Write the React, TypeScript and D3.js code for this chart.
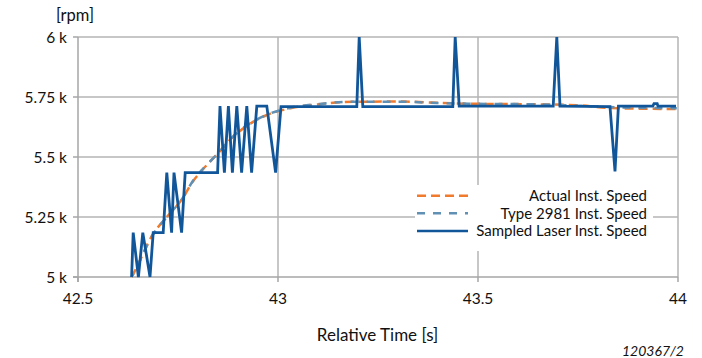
import React from "react";
import * as d3 from "d3";

// ---- Data ----
const yTicks = [5000, 5250, 5500, 5750, 6000];
const yTickLabels = ["5 k", "5.25 k", "5.5 k", "5.75 k", "6 k"];
const xTicks = [42.5, 43, 43.5, 44];
const xTickLabels = ["42.5", "43", "43.5", "44"];

const actualTime = [42.634, 42.638, 42.688, 42.722, 42.759, 42.788, 42.813, 42.847, 42.888, 42.93, 42.972, 43.022, 43.105, 43.188, 43.3125, 43.397, 43.48, 43.622, 43.747, 43.83, 43.997];
const actualSpeed = [5000, 5012, 5180, 5250, 5322, 5400, 5450, 5510, 5585, 5638, 5675, 5700, 5720, 5730, 5731, 5726, 5722, 5720, 5716, 5704, 5700];

const typeTime = [42.634, 42.638, 42.688, 42.722, 42.759, 42.788, 42.813, 42.847, 42.888, 42.93, 42.972, 43.022, 43.105, 43.188, 43.3125, 43.397, 43.48, 43.622, 43.747, 43.83, 43.997];
const typeSpeed = [5000, 5012, 5178, 5250, 5322, 5402, 5452, 5510, 5586, 5640, 5676, 5702, 5721, 5730, 5730, 5725, 5722, 5720, 5714, 5708, 5703];

const sampledTime = [42.634, 42.638, 42.651, 42.662, 42.68, 42.688, 42.713, 42.722, 42.734, 42.74, 42.759, 42.768, 42.849, 42.855, 42.866, 42.876, 42.886, 42.897, 42.909, 42.922, 42.934, 42.947, 42.972, 42.994, 43.0075, 43.197, 43.203, 43.212, 43.437, 43.443, 43.453, 43.688, 43.697, 43.705, 43.83, 43.8425, 43.851, 43.937, 43.94, 43.948, 43.95, 43.995];
const sampledSpeed = [5000, 5185, 5000, 5185, 5000, 5185, 5185, 5435, 5185, 5435, 5185, 5435, 5435, 5712, 5435, 5712, 5435, 5712, 5435, 5712, 5435, 5712, 5712, 5435, 5710, 5710, 6000, 5710, 5710, 6000, 5712, 5712, 6000, 5712, 5710, 5440, 5712, 5712, 5722, 5722, 5712, 5712];

const legendLabels = ["Actual Inst. Speed", "Type 2981 Inst. Speed", "Sampled Laser Inst. Speed"];

const FONT = "Lato, 'Open Sans', sans-serif";
const ORANGE = "#F07B2C";
const STEEL = "#6090B4";
const NAVY = "#12569A";
const GRID = "#B5B5B5";

export default function App() {
  const W = 702, H = 358;
  const x = d3.scaleLinear().domain([42.5, 44]).range([78, 678]);
  const y = d3.scaleLinear().domain([5000, 6000]).range([277, 37]);

  const zip = (t: number[], v: number[]) => t.map((tt, i) => [tt, v[i]] as [number, number]);
  const smooth = d3.line<[number, number]>().x(d => x(d[0])).y(d => y(d[1])).curve(d3.curveMonotoneX);
  const straight = d3.line<[number, number]>().x(d => x(d[0])).y(d => y(d[1]));

  const actualPath = smooth(zip(actualTime, actualSpeed)) || "";
  const typePath = smooth(zip(typeTime, typeSpeed)) || "";
  const sampledPath = straight(zip(sampledTime, sampledSpeed)) || "";

  const legendStyles = [
    { stroke: ORANGE, dash: "9,5", w: 2.5 },
    { stroke: STEEL, dash: "8,8", w: 2.5 },
    { stroke: NAVY, dash: "", w: 2.5 },
  ];

  return (
    <svg width={W} height={H} style={{ position: "absolute", left: 0, top: 0, background: "#fff" }} fontFamily={FONT}>
      {yTicks.slice(1).map(v => (
        <line key={"hg" + v} x1={x(42.5)} x2={x(44)} y1={y(v)} y2={y(v)} stroke={GRID} strokeWidth={1.5} />
      ))}
      {xTicks.slice(1).map(v => (
        <line key={"vg" + v} x1={x(v)} x2={x(v)} y1={y(6000)} y2={y(5000)} stroke={GRID} strokeWidth={1.5} />
      ))}
      <line x1={x(42.5)} x2={x(42.5)} y1={y(6000)} y2={y(5000) + 5} stroke="#A6A6A6" strokeWidth={1.5} />
      <line x1={x(42.5) - 5} x2={x(44)} y1={y(5000)} y2={y(5000)} stroke="#A6A6A6" strokeWidth={1.5} />
      {yTicks.map(v => (
        <line key={"yt" + v} x1={x(42.5) - 5} x2={x(42.5)} y1={y(v)} y2={y(v)} stroke="#A6A6A6" strokeWidth={1.5} />
      ))}
      {xTicks.map(v => (
        <line key={"xt" + v} x1={x(v)} x2={x(v)} y1={y(5000)} y2={y(5000) + 5} stroke="#A6A6A6" strokeWidth={1.5} />
      ))}
      {yTicks.map((v, i) => (
        <text key={"yl" + v} x={67} y={y(v)} dy="0.36em" textAnchor="end" fontSize={15.5} fill="#111">{yTickLabels[i]}</text>
      ))}
      {xTicks.map((v, i) => (
        <text key={"xl" + v} x={x(v)} y={298} dy="0.36em" textAnchor="middle" fontSize={15.5} fill="#111">{xTickLabels[i]}</text>
      ))}
      <text x={75} y={15} dy="0.36em" textAnchor="middle" fontSize={16.5} fill="#111">[rpm]</text>
      <text x={377.5} y={335} dy="0.36em" textAnchor="middle" fontSize={17} fill="#111">Relative Time [s]</text>
      <text x={684} y={351} dy="0.36em" textAnchor="end" fontSize={14} fontStyle="italic" fill="#111">120367/2</text>

      <path d={actualPath} fill="none" stroke={ORANGE} strokeWidth={2.5} strokeDasharray="9,5" />
      <path d={typePath} fill="none" stroke={STEEL} strokeWidth={2.5} strokeDasharray="8,8" strokeDashoffset={4} />
      <path d={sampledPath} fill="none" stroke={NAVY} strokeWidth={2.8} strokeLinejoin="miter" />

      <rect x={415} y={185} width={238} height={66} fill="#fff" />
      {legendLabels.map((lab, i) => {
        const ly = [195.7, 213.3, 231][i];
        const s = legendStyles[i];
        return (
          <g key={lab}>
            <line x1={417} x2={468} y1={ly} y2={ly} stroke={s.stroke} strokeWidth={s.w} strokeDasharray={s.dash || undefined} />
            <text x={647} y={ly} dy="0.36em" textAnchor="end" fontSize={15} fill="#111">{lab}</text>
          </g>
        );
      })}
    </svg>
  );
}
